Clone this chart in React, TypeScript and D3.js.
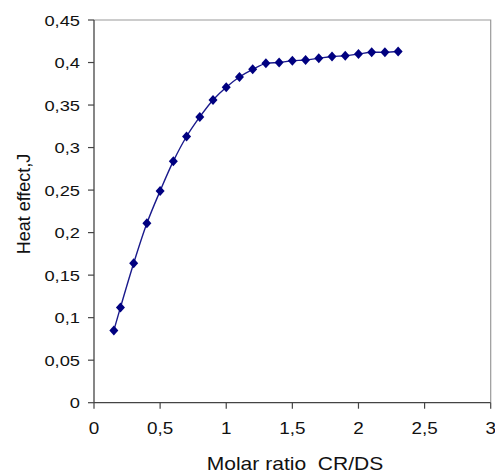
import React, { useEffect, useRef } from 'react'
import * as d3 from 'd3'

// molar ratio CR/DS
const ratios = [0.15, 0.2, 0.3, 0.4, 0.5, 0.6, 0.7, 0.8, 0.9, 1.0, 1.1, 1.2, 1.3, 1.4, 1.5, 1.6, 1.7, 1.8, 1.9, 2.0, 2.1, 2.2, 2.3]
// heat effect, J
const heat = [0.085, 0.112, 0.164, 0.211, 0.249, 0.284, 0.313, 0.336, 0.356, 0.371, 0.383, 0.392, 0.399, 0.4, 0.402, 0.403, 0.405, 0.407, 0.408, 0.41, 0.412, 0.412, 0.413]

const xTicks = [0, 0.5, 1, 1.5, 2, 2.5, 3]
const yTicks = [0, 0.05, 0.1, 0.15, 0.2, 0.25, 0.3, 0.35, 0.4, 0.45]

const W = 495
const H = 474
const left = 94, right = 490.7, top = 20, bottom = 402.7
const fmt = (v: number) => String(v).replace('.', ',')
const font = 'Liberation Sans, Arial, sans-serif'

export default function App() {
  const svgRef = useRef<SVGSVGElement>(null)

  useEffect(() => {
    const svg = d3.select(svgRef.current)
    svg.selectAll('*').remove()

    const x = d3.scaleLinear().domain([0, 3]).range([left, right])
    const y = d3.scaleLinear().domain([0, 0.45]).range([bottom, top])

    // plot area border (top / right)
    svg.append('path')
      .attr('d', `M${left},${top}H${right}V${bottom}`)
      .attr('fill', 'none')
      .attr('stroke', '#9a9a9a')
      .attr('stroke-width', 1.2)

    // y axis
    const yAxis = svg.append('g')
    yAxis.append('line')
      .attr('x1', left).attr('x2', left).attr('y1', top).attr('y2', bottom)
      .attr('stroke', '#444').attr('stroke-width', 1.3)
    yTicks.forEach(t => {
      yAxis.append('line')
        .attr('x1', left - 6).attr('x2', left).attr('y1', y(t)).attr('y2', y(t))
        .attr('stroke', '#444').attr('stroke-width', 1.2)
      yAxis.append('text')
        .attr('transform', `translate(80,${y(t) + 5.5}) scale(1.18,1)`)
        .attr('text-anchor', 'end')
        .attr('font-family', font)
        .attr('font-size', 15.5)
        .attr('fill', '#111')
        .text(fmt(t))
    })

    // x axis
    const xAxis = svg.append('g')
    xAxis.append('line')
      .attr('x1', left).attr('x2', right).attr('y1', bottom).attr('y2', bottom)
      .attr('stroke', '#444').attr('stroke-width', 1.3)
    xTicks.forEach(t => {
      xAxis.append('line')
        .attr('x1', x(t)).attr('x2', x(t)).attr('y1', bottom).attr('y2', bottom + 6)
        .attr('stroke', '#444').attr('stroke-width', 1.2)
      xAxis.append('text')
        .attr('transform', `translate(${x(t)},${434}) scale(1.18,1)`)
        .attr('text-anchor', 'middle')
        .attr('font-family', font)
        .attr('font-size', 16)
        .attr('fill', '#111')
        .text(fmt(t))
    })

    // titles
    svg.append('text')
      .attr('transform', `translate(295,470) scale(1.17,1)`)
      .attr('text-anchor', 'middle')
      .attr('font-family', font)
      .attr('font-size', 18)
      .attr('fill', '#111')
      .attr('xml:space', 'preserve')
      .style('white-space', 'pre')
      .text('Molar ratio  CR/DS')

    svg.append('text')
      .attr('transform', `translate(30,204) rotate(-90)`)
      .attr('text-anchor', 'middle')
      .attr('font-family', font)
      .attr('font-size', 18)
      .attr('fill', '#111')
      .text('Heat effect,J')

    const pts: [number, number][] = ratios.map((r, i) => [r, heat[i]])

    const line = d3.line<[number, number]>()
      .x(d => x(d[0]))
      .y(d => y(d[1]))
      .curve(d3.curveCatmullRom.alpha(0.5))

    svg.append('path')
      .datum(pts)
      .attr('d', line)
      .attr('fill', 'none')
      .attr('stroke', '#1a1a8c')
      .attr('stroke-width', 1.4)

    svg.selectAll('.pt')
      .data(pts)
      .join('path')
      .attr('class', 'pt')
      .attr('d', d => {
        const cx = x(d[0]), cy = y(d[1])
        return `M${cx},${cy - 5}L${cx + 4.5},${cy}L${cx},${cy + 5}L${cx - 4.5},${cy}Z`
      })
      .attr('fill', '#000080')
  }, [])

  return (
    <div style={{ position: 'absolute', left: 0, top: 0, background: '#fff' }}>
      <svg ref={svgRef} width={W} height={H} />
    </div>
  )
}
